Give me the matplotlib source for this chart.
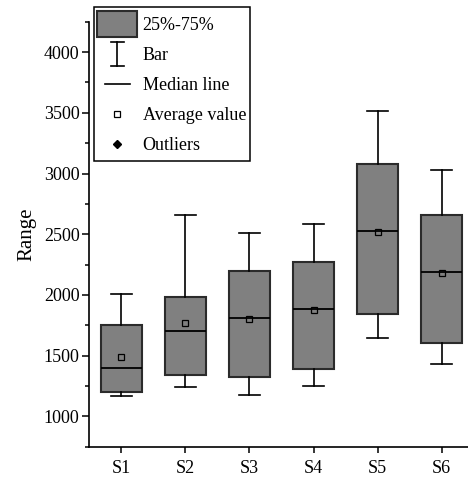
import matplotlib
matplotlib.use("Agg")
import matplotlib.pyplot as plt
from matplotlib.lines import Line2D
from matplotlib.patches import Rectangle
from matplotlib.legend_handler import HandlerBase
from matplotlib.ticker import MultipleLocator

# ---- data ----
categories = ["S1", "S2", "S3", "S4", "S5", "S6"]
whisker_low = [1170, 1240, 1175, 1250, 1648, 1432]
q1_values = [1200, 1340, 1320, 1390, 1846, 1605]
median_values = [1400, 1700, 1810, 1880, 2530, 2190]
q3_values = [1750, 1980, 2200, 2270, 3075, 2655]
whisker_high = [2010, 2660, 2510, 2580, 3515, 3030]
mean_values = [1490, 1770, 1805, 1877, 2522, 2184]
legend_labels = ["25%-75%", "Bar", "Median line", "Average value", "Outliers"]

plt.rcParams['font.family'] = ['Liberation Serif', 'DejaVu Serif']
plt.rcParams['font.size'] = 13

fig = plt.figure(figsize=(4.68, 4.83), dpi=100)
ax = fig.add_axes([0.1908, 0.0752, 1.0 - 0.1908, 0.955 - 0.0752])

stats = []
for i, c in enumerate(categories):
    stats.append(dict(label=c, whislo=whisker_low[i], q1=q1_values[i], med=median_values[i],
                      q3=q3_values[i], whishi=whisker_high[i], mean=mean_values[i], fliers=[]))

box_face = '#808080'
box_edge = '#2b2b2b'
ax.bxp(stats, positions=range(1, len(categories) + 1), widths=0.64, capwidths=0.33,
       patch_artist=True, showmeans=True, showfliers=False,
       boxprops=dict(facecolor=box_face, edgecolor=box_edge, linewidth=1.5),
       medianprops=dict(color='black', linewidth=1.3),
       whiskerprops=dict(color='black', linewidth=1.2),
       capprops=dict(color='black', linewidth=1.2),
       meanprops=dict(marker='s', markersize=4, markerfacecolor='none',
                      markeredgecolor='black', markeredgewidth=0.9))

ax.set_xlim(0.5, 6.41)
ax.set_ylim(750, 4250)
ax.yaxis.set_major_locator(MultipleLocator(500))
ax.yaxis.set_minor_locator(MultipleLocator(250))
ax.spines['top'].set_visible(False)
ax.spines['right'].set_visible(False)
for s in ('left', 'bottom'):
    ax.spines[s].set_linewidth(1.2)
ax.tick_params(axis='y', which='major', direction='out', length=5, width=1.1, pad=2)
ax.tick_params(axis='y', which='minor', direction='out', length=3, width=1.1)
ax.tick_params(axis='x', which='major', direction='out', length=4.5, width=1.1, pad=5)
ax.set_ylabel("Range", fontsize=15, labelpad=5)


class FuncHandler(HandlerBase):
    def __init__(self, kind):
        super().__init__()
        self.kind = kind

    def create_artists(self, legend, orig_handle, xdescent, ydescent, width, height, fontsize, trans):
        cx = width / 2 - xdescent
        cy = height / 2 - ydescent
        arts = []
        if self.kind == 'patch':
            arts.append(Rectangle((-xdescent, -ydescent), width, height, facecolor=box_face,
                                  edgecolor=box_edge, linewidth=1.5))
        elif self.kind == 'bar':
            top = -ydescent + height * 0.97
            bot = -ydescent + height * 0.05
            cw = width * 0.16
            arts.append(Line2D([cx, cx], [bot, top], color='black', lw=1.2))
            arts.append(Line2D([cx - cw, cx + cw], [top, top], color='black', lw=1.2))
            arts.append(Line2D([cx - cw, cx + cw], [bot, bot], color='black', lw=1.2))
        elif self.kind == 'median':
            arts.append(Line2D([cx - width * 0.31, cx + width * 0.31], [cy, cy], color='black', lw=1.2))
        elif self.kind == 'mean':
            arts.append(Line2D([cx], [cy], marker='s', markersize=4, markerfacecolor='none',
                               markeredgecolor='black', markeredgewidth=0.9, linestyle='none'))
        elif self.kind == 'out':
            arts.append(Line2D([cx], [cy], marker='D', markersize=4.5, markerfacecolor='black',
                               markeredgecolor='black', linestyle='none'))
        for a in arts:
            a.set_transform(trans)
        return arts


handles = [Line2D([], []) for _ in legend_labels]
kinds = ['patch', 'bar', 'median', 'mean', 'out']
hmap = {h: FuncHandler(k) for h, k in zip(handles, kinds)}

leg = fig.legend(handles, legend_labels, handler_map=hmap,
                 loc='upper left', bbox_to_anchor=(93.5 / 468, 1 - 7 / 483), borderaxespad=0,
                 fontsize=13, handlelength=2.2, handleheight=1.84, labelspacing=0.22,
                 handletextpad=0.3, borderpad=0.22, frameon=True, fancybox=False,
                 edgecolor='black', framealpha=1)
leg.get_frame().set_linewidth(1.1)

fig.savefig("out.png", dpi=100)
